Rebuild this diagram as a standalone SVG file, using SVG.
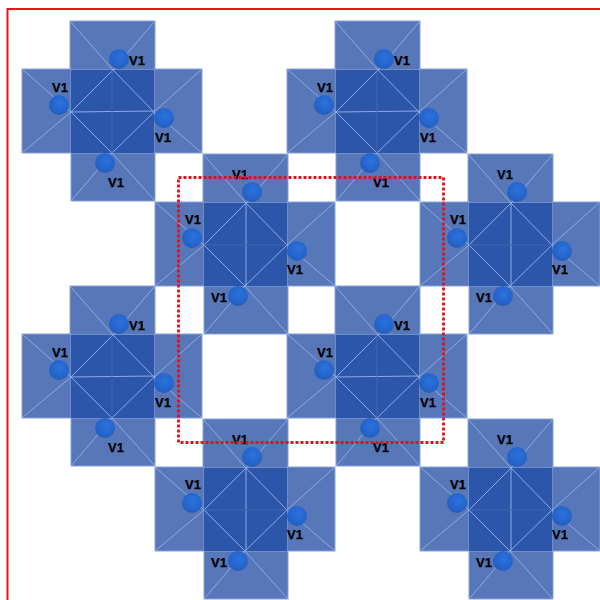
<svg xmlns="http://www.w3.org/2000/svg" width="600" height="600" viewBox="0 0 600 600">
<style>
.arm{fill:#5877b8;stroke:#86a3dc;stroke-width:1}
.core{fill:#2c56a9}
.ln{stroke:#8dabe4;stroke-width:1;fill:none}
.faint{stroke:#4067b4;stroke-width:1;fill:none}
.ball{fill:url(#ballGrad)}
text{font-family:"Liberation Sans",Arial,sans-serif;font-weight:700;font-size:13px;fill:#000;stroke:#000;stroke-width:.25;text-anchor:middle}
</style>
<defs>
<radialGradient id="ballGrad" cx="0.55" cy="0.4" r="0.65">
<stop offset="0" stop-color="#2b72de"/>
<stop offset="0.75" stop-color="#2363c8"/>
<stop offset="1" stop-color="#2858ad"/>
</radialGradient>
<g id="base">
<rect class="arm" x="70" y="21" width="85" height="49"/>
<rect class="arm" x="22" y="69" width="49" height="84"/>
<rect class="arm" x="154" y="69" width="48" height="84"/>
<rect class="arm" x="71" y="153" width="84" height="48"/>
<rect class="core" x="71" y="70" width="83" height="83"/>
<path class="ln" d="M70 21L113 70L154 112L202 153M155 21L113 70L71 112L22 153M22 69L71 112L112 153L155 201M202 69L154 112L112 153L71 201"/>
</g>
<g id="ballSet">
<circle class="ball" cx="119" cy="59" r="10"/>
<circle class="ball" cx="59" cy="105" r="10"/>
<circle class="ball" cx="164" cy="118" r="10"/>
<circle class="ball" cx="105" cy="163" r="10"/>
</g>
<g id="unitA">
<use href="#base"/>
<path class="ln" d="M71 112L154 111"/>
<path class="faint" d="M112 70V153"/>
<use href="#ballSet"/>
</g>
<g id="unitB">
<use href="#base"/>
<path class="ln" d="M113 70V153"/>
<path class="faint" d="M71 112H154"/>
<use href="#ballSet"/>
</g>
</defs>
<path d="M600 9H7.500V600" fill="none" stroke="#f01018" stroke-width="2"/>
<g id="node-a1"><use href="#unitA"/><text x="137" y="65">V1</text><text x="60" y="92">V1</text><text x="163" y="142">V1</text><text x="116" y="187">V1</text></g>
<g id="node-a2" transform="translate(265 0)"><use href="#unitA"/><text x="137" y="65">V1</text><text x="60" y="92">V1</text><text x="163" y="142">V1</text><text x="116" y="187">V1</text></g>
<g id="node-a3" transform="translate(0 265)"><use href="#unitA"/><text x="137" y="65">V1</text><text x="60" y="92">V1</text><text x="163" y="142">V1</text><text x="116" y="187">V1</text></g>
<g id="node-a4" transform="translate(265 265)"><use href="#unitA"/><text x="137" y="65">V1</text><text x="60" y="92">V1</text><text x="163" y="142">V1</text><text x="116" y="187">V1</text></g>
<g id="node-b1" transform="translate(133 133)"><use href="#unitB"/><text x="107" y="46">V1</text><text x="60" y="91">V1</text><text x="162" y="141">V1</text><text x="86" y="169">V1</text></g>
<g id="node-b2" transform="translate(398 133)"><use href="#unitB"/><text x="107" y="46">V1</text><text x="60" y="91">V1</text><text x="162" y="141">V1</text><text x="86" y="169">V1</text></g>
<g id="node-b3" transform="translate(133 398)"><use href="#unitB"/><text x="107" y="46">V1</text><text x="60" y="91">V1</text><text x="162" y="141">V1</text><text x="86" y="169">V1</text></g>
<g id="node-b4" transform="translate(398 398)"><use href="#unitB"/><text x="107" y="46">V1</text><text x="60" y="91">V1</text><text x="162" y="141">V1</text><text x="86" y="169">V1</text></g>
<rect id="unit-cell" x="178.500" y="177.500" width="265" height="265" fill="none" stroke="#e0101c" stroke-width="2.800" stroke-dasharray="3 2"/>
</svg>
